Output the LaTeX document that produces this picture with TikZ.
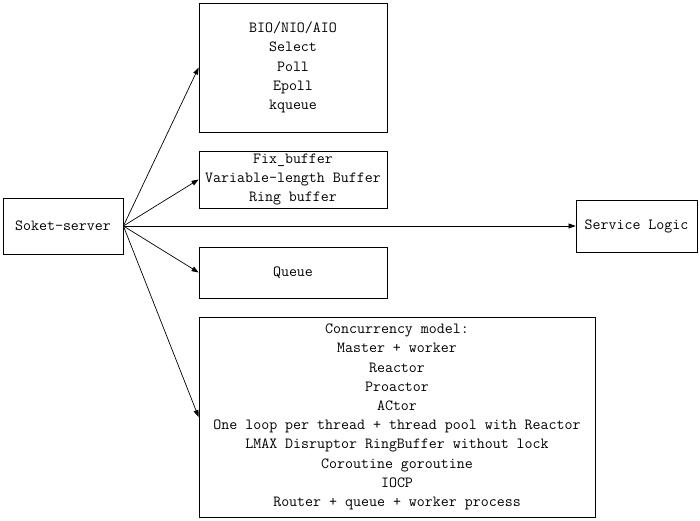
\documentclass[tikz,border=0pt]{standalone}
\usepackage{tikz}
\usetikzlibrary{arrows.meta}
\begin{document}
\begin{tikzpicture}[x=1pt,y=-1pt,
	box/.style={draw,line width=0.8pt,inner sep=0pt,align=center,font=\fontsize{15.5}{19.2}\selectfont\ttfamily},
	arr/.style={-{Triangle[length=7pt,width=5pt]},line width=0.7pt}]
		\useasboundingbox (0,0) rectangle (700,520);
		\node[box,minimum width=120,minimum height=56] (srv) at (63,226) {Soket-server}; %server
		\node[box,minimum width=188,minimum height=129] (io) at (293,67.5) {BIO/NIO/AIO\\Select\\Poll\\Epoll\\kqueue}; %io
		\node[box,minimum width=188,minimum height=57] (buf) at (293,179.5) {Fix\_buffer\\Variable-length Buffer\\Ring buffer}; %buffer
		\node[box,minimum width=188,minimum height=51] (que) at (293,272.5) {Queue}; %queue
		\node[box,minimum width=396,minimum height=200] (conc) at (397,417) {Concurrency model:\\Master + worker\\Reactor\\Proactor\\ACtor\\One loop per thread + thread pool with Reactor\\LMAX Disruptor RingBuffer without lock\\Coroutine goroutine\\IOCP\\Router + queue + worker process}; %model
		\node[box,minimum width=121,minimum height=52] (logic) at (636.5,226) {Service Logic}; %logic
		\foreach \t in {io,buf,que,conc}{ %arrows
			\draw[arr] (srv.east) -- (\t.west);
		}
		\draw[arr] (srv.east) -- (logic.west);
	\end{tikzpicture}
\end{document}
